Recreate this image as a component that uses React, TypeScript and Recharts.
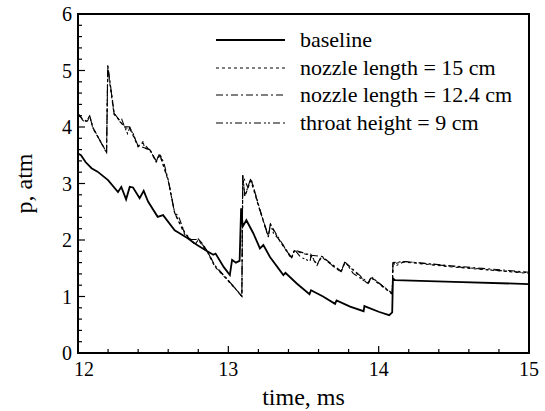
import { LineChart, Line, XAxis, YAxis, ReferenceArea, Label } from 'recharts';

// time (ms), pressure (atm) pairs
const baseline: Array<[number, number]> = [
  [12.0, 3.53], [12.02, 3.5], [12.05, 3.38], [12.09, 3.27], [12.13, 3.21], [12.2, 3.06],
  [12.266, 2.85], [12.288, 2.94], [12.32, 2.72], [12.344, 2.94], [12.366, 2.93], [12.41, 2.74],
  [12.437, 2.87], [12.466, 2.68], [12.53, 2.41], [12.566, 2.44], [12.643, 2.17], [12.67, 2.13],
  [12.73, 2.03], [12.77, 1.95], [12.8, 1.9], [12.86, 1.8], [12.9, 1.74], [12.915, 1.76],
  [12.97, 1.52], [13.01, 1.38], [13.025, 1.65], [13.05, 1.6], [13.075, 1.63], [13.085, 2.56],
  [13.096, 2.24], [13.12, 2.35], [13.166, 2.12], [13.21, 1.85], [13.233, 1.91], [13.277, 1.7],
  [13.366, 1.38], [13.38, 1.42], [13.455, 1.23], [13.54, 1.04], [13.55, 1.11], [13.63, 1.0],
  [13.71, 0.87], [13.72, 0.93], [13.81, 0.82], [13.9, 0.74], [13.905, 0.83], [14.0, 0.73],
  [14.07, 0.67], [14.09, 0.72], [14.095, 1.32], [14.11, 1.29], [14.5, 1.26], [15.0, 1.22],
];

const throat9: Array<[number, number]> = [
  [12.0, 4.23], [12.033, 4.12], [12.055, 4.1], [12.078, 4.19], [12.1, 3.98], [12.19, 3.55],
  [12.198, 5.1], [12.21, 4.83], [12.22, 4.65], [12.24, 4.24], [12.266, 4.15], [12.285, 4.07],
  [12.292, 4.13], [12.31, 4.0], [12.33, 3.88], [12.344, 3.99], [12.366, 3.89], [12.4, 3.66],
  [12.432, 3.74], [12.444, 3.62], [12.477, 3.6], [12.52, 3.39], [12.543, 3.53], [12.572, 3.36],
  [12.6, 3.06], [12.643, 2.47], [12.666, 2.44], [12.71, 2.12], [12.75, 2.0], [12.78, 1.92],
  [12.8, 2.02], [12.83, 1.93], [12.86, 1.8], [12.91, 1.54], [12.98, 1.34], [13.07, 1.07],
  [13.09, 1.0], [13.096, 3.15], [13.11, 2.77], [13.13, 2.94], [13.15, 3.09], [13.166, 2.95],
  [13.21, 2.53], [13.266, 2.06], [13.28, 2.29], [13.3, 2.12], [13.34, 2.0], [13.42, 1.68],
  [13.44, 1.83], [13.48, 1.7], [13.544, 1.62], [13.55, 1.74], [13.59, 1.56], [13.62, 1.72],
  [13.7, 1.53], [13.75, 1.44], [13.776, 1.62], [13.83, 1.41], [13.93, 1.23], [13.95, 1.35],
  [14.01, 1.22], [14.09, 1.05], [14.095, 1.59], [14.12, 1.55], [14.17, 1.62], [14.25, 1.6],
  [14.5, 1.53], [14.75, 1.47], [15.0, 1.42],
];

const nozzle15: Array<[number, number]> = [
  [12.0, 4.22], [12.035, 4.11], [12.057, 4.09], [12.08, 4.17], [12.1, 3.97], [12.19, 3.56],
  [12.198, 5.05], [12.21, 4.8], [12.24, 4.22], [12.27, 4.14], [12.31, 3.99], [12.345, 3.97],
  [12.4, 3.65], [12.432, 3.72], [12.48, 3.58], [12.52, 3.38], [12.545, 3.5], [12.6, 3.05],
  [12.645, 2.46], [12.71, 2.1], [12.75, 1.99], [12.78, 1.93], [12.8, 2.0], [12.86, 1.79],
  [12.91, 1.53], [12.98, 1.33], [13.09, 1.01], [13.096, 3.12], [13.11, 2.78], [13.15, 3.05],
  [13.21, 2.52], [13.266, 2.05], [13.28, 2.27], [13.34, 1.99], [13.42, 1.67], [13.44, 1.81],
  [13.55, 1.72], [13.59, 1.55], [13.62, 1.7], [13.75, 1.43], [13.776, 1.6], [13.93, 1.22],
  [13.95, 1.33], [14.09, 1.04], [14.095, 1.58], [14.17, 1.61], [14.5, 1.52], [15.0, 1.41],
];

const nozzle124: Array<[number, number]> = [
  [12.0, 4.24], [12.033, 4.13], [12.055, 4.11], [12.078, 4.2], [12.1, 3.99], [12.19, 3.54],
  [12.198, 5.08], [12.22, 4.66], [12.24, 4.25], [12.285, 4.08], [12.31, 4.01], [12.344, 4.0],
  [12.4, 3.67], [12.444, 3.63], [12.477, 3.61], [12.52, 3.4], [12.543, 3.52], [12.6, 3.07],
  [12.643, 2.48], [12.71, 2.13], [12.75, 2.01], [12.8, 2.01], [12.86, 1.81], [12.91, 1.55],
  [12.98, 1.35], [13.09, 1.0], [13.096, 3.14], [13.13, 2.93], [13.15, 3.08], [13.21, 2.54],
  [13.266, 2.07], [13.28, 2.28], [13.34, 2.01], [13.42, 1.69], [13.44, 1.82], [13.55, 1.73],
  [13.62, 1.71], [13.75, 1.45], [13.776, 1.61], [13.93, 1.24], [13.95, 1.34], [14.09, 1.06],
  [14.095, 1.6], [14.17, 1.62], [14.5, 1.54], [15.0, 1.43],
];

const xTicks = [12, 12.2, 12.4, 12.6, 12.8, 13, 13.2, 13.4, 13.6, 13.8, 14, 14.2, 14.4, 14.6, 14.8, 15];
const yTicks = [0, 0.2, 0.4, 0.6, 0.8, 1, 1.2, 1.4, 1.6, 1.8, 2, 2.2, 2.4, 2.6, 2.8, 3, 3.2, 3.4, 3.6, 3.8, 4, 4.2, 4.4, 4.6, 4.8, 5, 5.2, 5.4, 5.6, 5.8, 6];

const FONT = "'Liberation Serif', 'Times New Roman', Times, Tinos, 'Nimbus Roman', 'Noto Serif', 'DejaVu Serif', FreeSerif, serif";

const series = [
  { name: 'baseline', data: baseline, dash: undefined, width: 1.8 },
  { name: 'nozzle length = 15 cm', data: nozzle15, dash: '3 3', width: 1.1 },
  { name: 'nozzle length = 12.4 cm', data: nozzle124, dash: '7 3 2 3', width: 1.1 },
  { name: 'throat height = 9 cm', data: throat9, dash: '7 3 2 2 2 3', width: 1.1 },
];

const toRows = (pts: Array<[number, number]>) => pts.map(([t, p]) => ({ t, p }));

const isMajor = (v: number) => Math.abs(v - Math.round(v)) < 1e-6;

function XTick(props: any) {
  const { x, y, payload } = props;
  const v = payload.value;
  const major = isMajor(v);
  // first label nudged right, as in the source, to clear the "0"
  const lx = v === 12 ? x + 6 : x;
  return (
    <g>
      <line x1={x} x2={x} y1={y} y2={y - (major ? 7 : 4)} stroke="#000" strokeWidth={1.2} />
      {major && (
        <text x={lx} y={y + 23} textAnchor="middle" style={{ fontSize: 20, fontFamily: FONT }} fill="#000">
          {Math.round(v)}
        </text>
      )}
    </g>
  );
}

function YTick(props: any) {
  const { x, y, payload } = props;
  const v = payload.value;
  const major = isMajor(v);
  return (
    <g>
      <line x1={x} x2={x + (major ? 7 : 4)} y1={y} y2={y} stroke="#000" strokeWidth={1.2} />
      {major && (
        <text x={x - 6} y={y + 7} textAnchor="end" style={{ fontSize: 20, fontFamily: FONT }} fill="#000">
          {Math.round(v)}
        </text>
      )}
    </g>
  );
}

function XTitle(props: any) {
  const { viewBox } = props;
  const cx = viewBox.x + viewBox.width / 2;
  return (
    <text x={cx} y={405} textAnchor="middle" style={{ fontSize: 24, fontFamily: FONT }} fill="#000">
      time, ms
    </text>
  );
}

function YTitle(props: any) {
  const { viewBox } = props;
  const cx = 32;
  const cy = viewBox.y + viewBox.height / 2;
  return (
    <text x={cx} y={cy} transform={`rotate(-90 ${cx} ${cy})`} textAnchor="middle" style={{ fontSize: 24, fontFamily: FONT }} fill="#000">
      p, atm
    </text>
  );
}

function LegendBox() {
  return (
    <div style={{ position: 'absolute', left: 216, top: 26, fontFamily: FONT, fontSize: 22, color: '#000' }}>
      {series.map(s => (
        <div key={s.name} style={{ display: 'flex', alignItems: 'center', height: 27.7, whiteSpace: 'nowrap' }}>
          <svg width={69} height={10} style={{ marginRight: 15 }}>
            <line x1={0} x2={69} y1={5} y2={5} stroke="#000" strokeWidth={s.width} strokeDasharray={s.dash} />
          </svg>
          <span>{s.name}</span>
        </div>
      ))}
    </div>
  );
}

export default function App() {
  return (
    <div style={{ position: 'absolute', left: 0, top: 0, width: 545, height: 411, background: '#fff' }}>
      <LineChart width={545} height={411} margin={{ top: 14, right: 16, left: 18, bottom: 8 }}>
        <XAxis
          dataKey="t"
          type="number"
          domain={[12, 15]}
          ticks={xTicks}
          interval={0}
          height={50}
          tickSize={0}
          tickMargin={0}
          tick={<XTick />}
          axisLine={{ stroke: '#000', strokeWidth: 2 }}
          allowDuplicatedCategory={false}
        >
          <Label content={<XTitle />} />
        </XAxis>
        <YAxis
          type="number"
          domain={[0, 6]}
          ticks={yTicks}
          interval={0}
          width={60}
          tickSize={0}
          tickMargin={0}
          tick={<YTick />}
          axisLine={{ stroke: '#000', strokeWidth: 2 }}
        >
          <Label content={<YTitle />} />
        </YAxis>
        <ReferenceArea x1={12} x2={15} y1={0} y2={6} fill="none" stroke="#000" strokeWidth={2} />
        {series.map(s => (
          <Line
            key={s.name}
            data={toRows(s.data)}
            dataKey="p"
            name={s.name}
            type="linear"
            stroke="#000"
            strokeWidth={s.width}
            strokeDasharray={s.dash}
            dot={false}
            activeDot={false}
            isAnimationActive={false}
          />
        ))}
      </LineChart>
      <LegendBox />
    </div>
  );
}
